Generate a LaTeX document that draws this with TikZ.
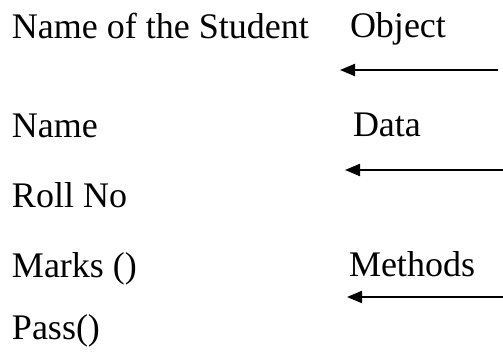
\documentclass[tikz,border=0pt]{standalone}
\usepackage{fontspec}
\setmainfont{Liberation Serif}
\usetikzlibrary{arrows.meta}
\begin{document}
\begin{tikzpicture}[x=1pt,y=-1pt,
  lbl/.style={anchor=base west,inner sep=0pt,outer sep=0pt,font=\fontsize{36}{42}\selectfont},
  pointer/.style={line width=2pt,-{Triangle[length=15pt,width=12pt]}}]
\useasboundingbox (0,0) rectangle (503,352);
\node[lbl] (student) at (12,39) {Name of the Student};
\node[lbl] (object) at (350,38) {Object};
\node[lbl] (name) at (12,138) {Name};
\node[lbl] (data) at (353,137) {Data};
\node[lbl] (roll) at (12,208) {Roll No};
\node[lbl] (marks) at (12,278) {Marks ()};
\node[lbl] (methods) at (349,277) {Methods};
\node[lbl] (pass) at (12,340) {Pass()};
\coordinate (o1) at (498,70);
\coordinate (o2) at (340,70);
\coordinate (d1) at (503,170);
\coordinate (d2) at (345,170);
\coordinate (m1) at (503,297);
\coordinate (m2) at (347,297);
\draw[pointer] (o1) -- (o2);
\draw[pointer] (d1) -- (d2);
\draw[pointer] (m1) -- (m2);
\end{tikzpicture}
\end{document}
